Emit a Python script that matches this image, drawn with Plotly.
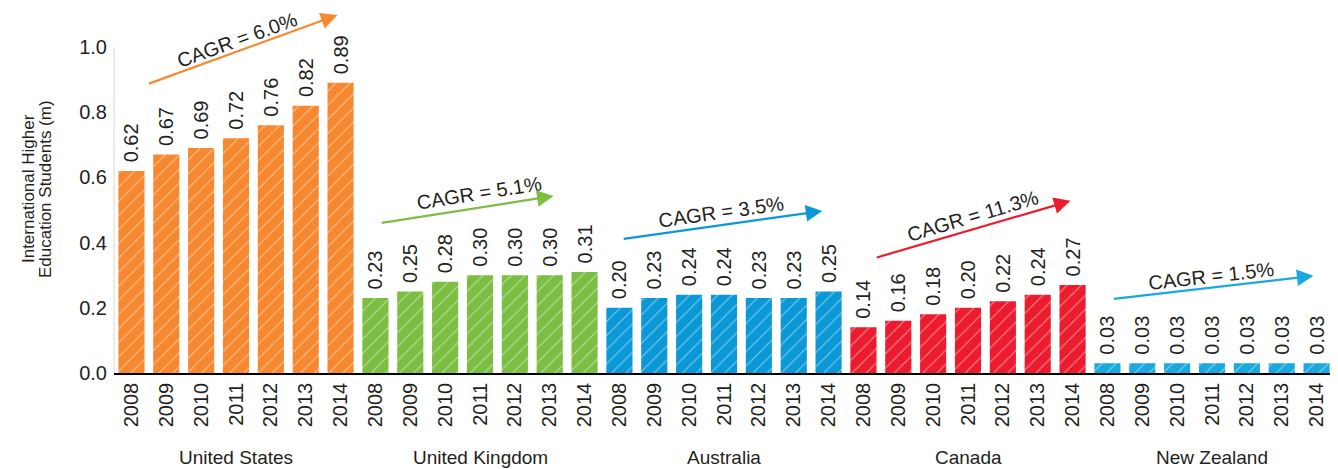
import plotly.graph_objects as go

countries = ["United States", "United Kingdom", "Australia", "Canada", "New Zealand"]
years = ["2008", "2009", "2010", "2011", "2012", "2013", "2014"]
us = [0.62, 0.67, 0.69, 0.72, 0.76, 0.82, 0.89]
uk = [0.23, 0.25, 0.28, 0.30, 0.30, 0.30, 0.31]
au = [0.20, 0.23, 0.24, 0.24, 0.23, 0.23, 0.25]
ca = [0.14, 0.16, 0.18, 0.20, 0.22, 0.24, 0.27]
nz = [0.03, 0.03, 0.03, 0.03, 0.03, 0.03, 0.03]
cagr = ["CAGR = 6.0%", "CAGR = 5.1%", "CAGR = 3.5%", "CAGR = 11.3%", "CAGR = 1.5%"]
colors = ["#F7882F", "#7BBE42", "#0A98D6", "#EC1C2E", "#1AA9DE"]
series = [us, uk, au, ca, nz]

FONT = "Liberation Sans"
TXT = "#231f20"

fig = go.Figure()
n = len(years)
for ci, (name, vals, col) in enumerate(zip(countries, series, colors)):
    xs = [ci * n + i for i in range(n)]
    fig.add_trace(go.Bar(
        x=xs, y=vals, name=name,
        marker=dict(color=col, line=dict(width=0),
                    pattern=dict(shape="/", fgcolor="white", bgcolor=col, size=10, solidity=0.1, fillmode="overlay")),
        text=["\u00a0" + f"{v:.2f}" for v in vals], textposition="outside", textangle=-90, constraintext="none",
        textfont=dict(family=FONT, size=20, color=TXT), cliponaxis=False,
        showlegend=False,
    ))

tickvals = list(range(len(countries) * n))
ticktext = years * len(countries)

# arrows: (tail x, tail y, head x, head y), text pos (x, y, angle)
arrows = [
    (0.46, 0.886, 5.91, 1.098, 3.02, 1.022, -20),
    (7.14, 0.460, 12.11, 0.543, 9.96, 0.553, -9),
    (14.08, 0.411, 19.82, 0.497, 16.9, 0.494, -8),
    (21.34, 0.353, 26.94, 0.528, 24.13, 0.481, -16.5),
    (28.14, 0.227, 33.91, 0.298, 30.96, 0.299, -6.5),
]
annotations = []
for (tx, ty, hx, hy, lx, ly, ang), col, t in zip(arrows, colors, cagr):
    annotations.append(dict(x=hx, y=hy, ax=tx, ay=ty, xref="x", yref="y", axref="x", ayref="y",
                            showarrow=True, arrowhead=2, arrowsize=1.5, arrowwidth=2.2, arrowcolor=col, text=""))
    annotations.append(dict(x=lx, y=ly, xref="x", yref="y", text=t, showarrow=False, textangle=ang,
                            borderpad=0, font=dict(family=FONT, size=20, color=TXT)))
for ci, name in enumerate(countries):
    annotations.append(dict(x=ci * n + 3, y=0, xref="x", yref="paper", yshift=-84, yanchor="middle",
                            text=name, showarrow=False, font=dict(family=FONT, size=19, color=TXT)))
for line, xs in (("International Higher", -86), ("Education Students (m)", -69)):
    annotations.append(dict(x=0, y=0.504, xref="paper", yref="paper", xshift=xs, xanchor="center", yanchor="middle",
                            text=line, textangle=-90, showarrow=False,
                            font=dict(family=FONT, size=17, color=TXT)))

fig.update_layout(
    width=1330, height=461,
    margin=dict(l=106, r=4, t=0, b=96, autoexpand=False),
    plot_bgcolor="white", paper_bgcolor="white",
    bargap=0.25,
    annotations=annotations,
    shapes=[dict(type="line", xref="paper", yref="y", x0=0, x1=0, y0=0, y1=1.0,
                 line=dict(color="#d3dccb", width=1))],
    xaxis=dict(range=[-0.5, 34.5], tickvals=tickvals, ticktext=ticktext, tickangle=-90,
               tickfont=dict(family=FONT, size=20, color=TXT), showline=True, linecolor="black", linewidth=1.5,
               showgrid=False, zeroline=False, ticks="", automargin=False),
    yaxis=dict(range=[0, 365 / 326], tickvals=[0, 0.2, 0.4, 0.6, 0.8, 1.0], tickformat=".1f",
               tickfont=dict(family=FONT, size=20, color=TXT), showgrid=False, zeroline=False, showline=False,
               ticks="", ticklabelstandoff=6, automargin=False),
)
fig.write_html("out.html")
